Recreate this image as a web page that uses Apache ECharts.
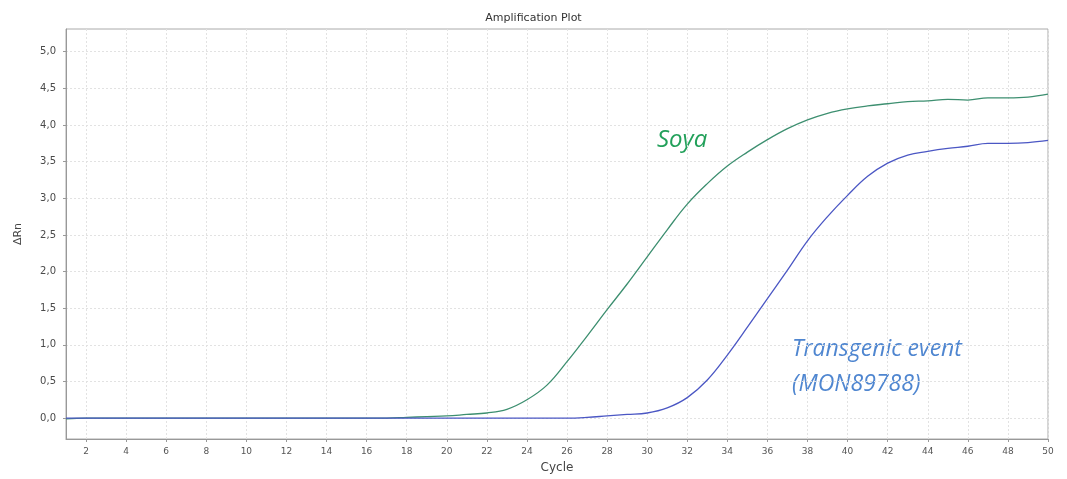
<!DOCTYPE html>
<html><head><meta charset="utf-8">
<script src="https://cdn.jsdelivr.net/npm/echarts@6/dist/echarts.min.js"></script>
<style>html,body{margin:0;padding:0;background:#fff}#c{width:1067px;height:479px}</style>
</head><body><div id="c"></div>
<script>
const cycles = [1,2,3,4,5,6,7,8,9,10,11,12,13,14,15,16,17,18,19,20,21,22,23,24,25,26,27,28,29,30,31,32,33,34,35,36,37,38,39,40,41,42,43,44,45,46,47,48,49,50];
const soya = [-0.01,0,0,0,0,0,0,0,0,0,0,0,0,0,0,0,0,0.01,0.02,0.03,0.05,0.07,0.12,0.25,0.45,0.77,1.12,1.48,1.83,2.2,2.57,2.92,3.2,3.44,3.63,3.8,3.95,4.07,4.16,4.22,4.26,4.29,4.32,4.33,4.35,4.34,4.37,4.37,4.38,4.42];
const transgenic = [0,0,0,0,0,0,0,0,0,0,0,0,0,0,0,0,0,0,0,0,0,0,0,0,0,0,0.01,0.03,0.05,0.07,0.14,0.28,0.52,0.86,1.24,1.63,2.02,2.42,2.75,3.04,3.3,3.48,3.59,3.64,3.68,3.71,3.75,3.75,3.76,3.79];
const xTicks = [2,4,6,8,10,12,14,16,18,20,22,24,26,28,30,32,34,36,38,40,42,44,46,48,50];
const yTicks = [0,0.5,1,1.5,2,2.5,3,3.5,4,4.5,5];
const seriesNames = ['Soya','Transgenic event (MON89788)'];

const chart = echarts.init(document.getElementById('c'), null, {renderer:'canvas'});
const labelStyle = {color:'#4a4a4a', fontSize:10, fontFamily:'DejaVu Sans'};
chart.setOption({
  animation:false,
  backgroundColor:'#fff',
  title:{text:'Amplification Plot', left:'center', top:8, textStyle:{fontSize:11, fontWeight:'normal', color:'#333', fontFamily:'DejaVu Sans'}},
  grid:{left:66, right:19, top:29, bottom:38, show:true, borderColor:'#aaa', borderWidth:1},
  xAxis:{type:'value', min:1, max:50, name:'Cycle', nameLocation:'middle', nameGap:23,
    nameTextStyle:{fontSize:12, color:'#444', fontFamily:'DejaVu Sans'},
    axisLine:{onZero:false, lineStyle:{color:'#999'}},
    axisTick:{customValues:xTicks, length:3, lineStyle:{color:'#999'}},
    axisLabel:{customValues:xTicks, ...labelStyle, color:'#555', fontSize:9, margin:8},
    splitLine:{show:true, lineStyle:{color:'#e2e2e2', type:[2,2]}}},
  yAxis:{type:'value', min:-0.285, max:5.31, name:'ΔRn', nameLocation:'middle', nameGap:42,
    nameTextStyle:{fontSize:11, color:'#444', fontFamily:'DejaVu Sans'},
    axisLine:{show:true, onZero:false, lineStyle:{color:'#999'}},
    axisTick:{show:true, customValues:yTicks, length:3, lineStyle:{color:'#999'}},
    axisLabel:{customValues:yTicks, ...labelStyle, margin:10, formatter:v=>v.toFixed(1).replace('.',',')},
    splitLine:{show:true, lineStyle:{color:'#e2e2e2', type:[2,2]}}},
  series:[
    {name:seriesNames[0], type:'line', data:cycles.map((c,i)=>[c,soya[i]]), showSymbol:false, smooth:0.4, lineStyle:{color:'#3d8f70', width:1.3}, z:2},
    {name:seriesNames[1], type:'line', data:cycles.map((c,i)=>[c,transgenic[i]]), showSymbol:false, smooth:0.4, lineStyle:{color:'#4b57c4', width:1.3}, z:3}
  ],
  graphic:[
    {type:'text', left:657, top:128, style:{text:'Soya', fill:'#22a05a', font:'italic 24px "Open Sans"'}},
    {type:'text', left:792, top:338, style:{text:'Transgenic event', fill:'#4f86d0', font:'italic 23px "Open Sans"'}},
    {type:'text', left:792, top:373, style:{text:'(MON89788)', fill:'#4f86d0', font:'italic 23px "Open Sans"'}}
  ]
});
</script></body></html>
